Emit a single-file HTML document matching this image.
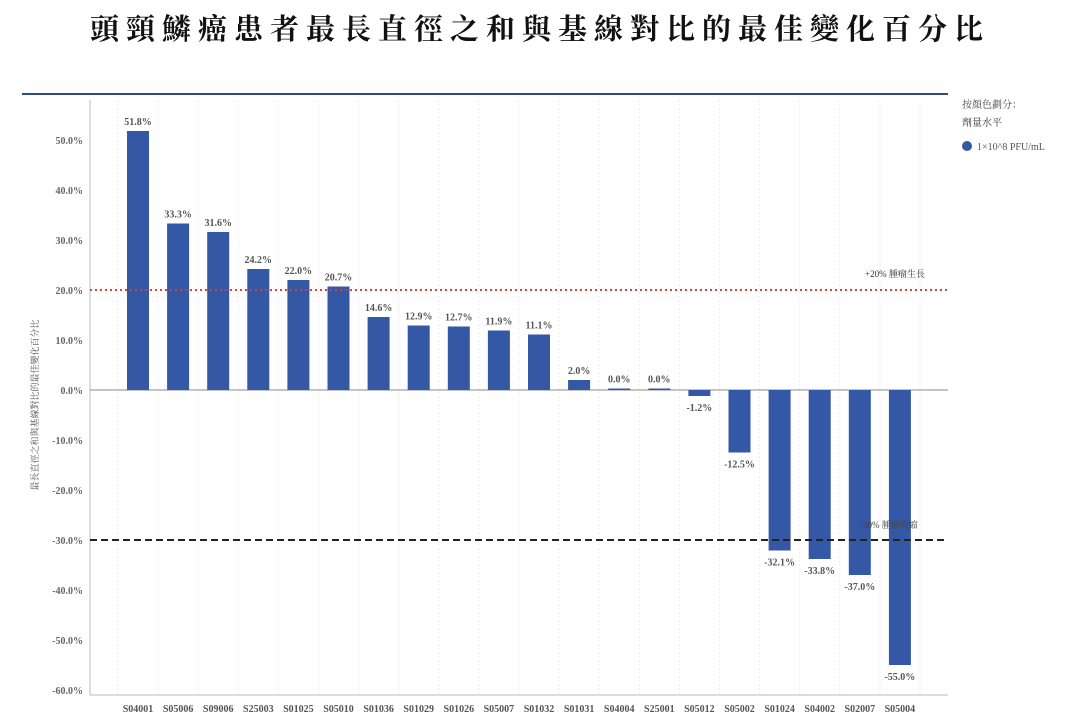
<!DOCTYPE html>
<html><head><meta charset="utf-8"><style>
body{margin:0;background:#fff;width:1080px;height:724px;overflow:hidden;font-family:"Liberation Serif","Noto Serif CJK SC",serif}
#title{position:absolute;left:0;top:7px;width:1080px;text-align:center;font-size:29px;font-weight:bold;letter-spacing:7px;color:#111;font-family:"Liberation Serif","Noto Serif CJK SC",serif}
</style></head><body>
<div id="title">頭頸鱗癌患者最長直徑之和與基線對比的最佳變化百分比</div>
<svg id="c" width="1080" height="724" style="position:absolute;left:0;top:0"></svg>
<script>
const categories=["S04001","S05006","S09006","S25003","S01025","S05010","S01036","S01029","S01026","S05007","S01032","S01031","S04004","S25001","S05012","S05002","S01024","S04002","S02007","S05004"];
const values=[51.8,33.3,31.6,24.2,22.0,20.7,14.6,12.9,12.7,11.9,11.1,2.0,0.3,0.3,-1.2,-12.5,-32.1,-33.8,-37.0,-55.0];
const valueLabels=["51.8%","33.3%","31.6%","24.2%","22.0%","20.7%","14.6%","12.9%","12.7%","11.9%","11.1%","2.0%","0.0%","0.0%","-1.2%","-12.5%","-32.1%","-33.8%","-37.0%","-55.0%"];
const yTicks=[50,40,30,20,10,0,-10,-20,-30,-40,-50,-60];
const refLines=[20,-30];
const svg=document.getElementById('c');const NS='http://www.w3.org/2000/svg';
function el(t,a,p){const e=document.createElementNS(NS,t);for(const k in a)e.setAttribute(k,a[k]);(p||svg).appendChild(e);return e;}
const y=v=>390-v*5;
const x0=118,step=40.1;
const xc=i=>x0+step*i+20;
let e;
e=el('line',{x1:22,x2:948,y1:94,y2:94,stroke:'#2e4a8a','stroke-width':2});


for(let i=0;i<=categories.length;i++){e=el('line',{x1:x0+step*i,x2:x0+step*i,y1:100,y2:695,stroke:'#ececec','stroke-width':1,'stroke-dasharray':'2,2'});

}
e=el('line',{x1:90,x2:90,y1:100,y2:695,stroke:'#bbb'});


e=el('line',{x1:90,x2:948,y1:695,y2:695,stroke:'#bbb'});


yTicks.forEach(t=>{e=el('text',{x:83,y:y(t)+4,'text-anchor':'end','font-size':10,fill:'#666','font-weight':'bold'});e.textContent=t.toFixed(1)+'%';

});
e=el('line',{x1:90,x2:948,y1:y(0),y2:y(0),stroke:'#888'});


values.forEach((v,i)=>{const w=22;const top=Math.min(y(v),y(0)),h=Math.max(1,Math.abs(y(v)-y(0)));
e=el('rect',{x:xc(i)-w/2,y:top,width:w,height:h,fill:'#3457a6'});


e=el('text',{x:xc(i),y:v>=0?y(v)-6:y(v)+15,'text-anchor':'middle','font-size':10,'font-weight':'bold',fill:'#555'});e.textContent=valueLabels[i];


e=el('text',{x:xc(i),y:712,'text-anchor':'middle','font-size':10,'font-weight':'bold',fill:'#555'});e.textContent=categories[i];

});
e=el('line',{x1:90,x2:948,y1:y(refLines[0]),y2:y(refLines[0]),stroke:'#d0453a','stroke-width':2,'stroke-dasharray':'2,3'});


e=el('line',{x1:90,x2:948,y1:y(refLines[1]),y2:y(refLines[1]),stroke:'#222','stroke-width':2,'stroke-dasharray':'7,4'});


e=el('text',{x:865,y:277,'font-size':9,fill:'#333'});e.textContent='+20% 腫瘤生長';


e=el('text',{x:860,y:528,'font-size':9,fill:'#444'});e.textContent='-30% 腫瘤收縮';


e=el('text',{x:0,y:0,'font-size':9,fill:'#555','text-anchor':'middle',transform:'translate(38,405) rotate(-90)'});e.textContent='最長直徑之和與基線對比的最佳變化百分比';


e=el('text',{x:962,y:108,'font-size':10,fill:'#444'});e.textContent='按顏色劃分：';


e=el('text',{x:962,y:126,'font-size':10,fill:'#333'});e.textContent='劑量水平';


e=el('circle',{cx:967,cy:146,r:5,fill:'#3457a6'});


e=el('text',{x:977,y:150,'font-size':10,fill:'#555'});e.textContent='1×10^8 PFU/mL';


</script>
</body></html>
